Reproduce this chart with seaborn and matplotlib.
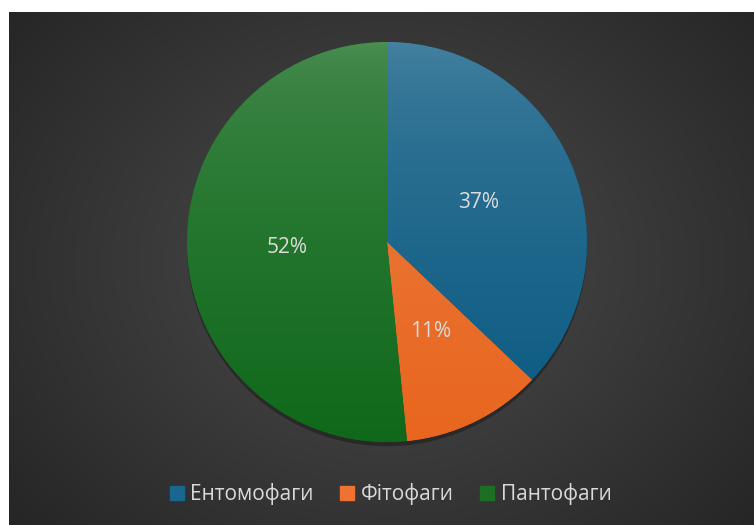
import numpy as np
import seaborn as sns
import matplotlib.pyplot as plt
import matplotlib.patheffects as pe
from matplotlib.colors import to_rgb
from matplotlib.lines import Line2D

# data (shares; labels show rounded values)
groups = ['Ентомофаги', 'Фітофаги', 'Пантофаги']
shares = [37.1, 11.3, 51.6]
base_colors = ['#0b5a82', '#e8661f', '#10691b']
legend_colors = ['#1a6690', '#ee7230', '#1c6f24']

sns.set_style('white')
plt.rcParams['font.family'] = ['Open Sans', 'DejaVu Sans']

fig = plt.figure(figsize=(7.54, 5.25), dpi=100)
fig.patch.set_facecolor('white')

# dark radial background (chart area)
bg = fig.add_axes([9 / 754, 0, 1 - 9 / 754, 513 / 525])
bg.set_axis_off()
yy, xx = np.mgrid[0:513, 0:745]
cx, cy = 378, 250
d = np.sqrt(((xx - cx) / 520) ** 2 + ((yy - cy) / 420) ** 2)
d = np.clip(d, 0, 1)
shade = 0.30 - 0.16 * d
bg.imshow(np.dstack([shade] * 3), aspect='auto', extent=[0, 1, 0, 1], origin='upper')
bg.set_xlim(0, 1)
bg.set_ylim(0, 1)

# pie
ax = fig.add_axes([187 / 754, 83 / 525, 400 / 754, 400 / 525])
wedges, texts, autotexts = ax.pie(
    shares, colors=base_colors, startangle=90, counterclock=False,
    autopct='%1.0f%%', pctdistance=0.5, radius=1,
    textprops={'color': '#dcdcdc', 'fontsize': 15},
    wedgeprops={'linewidth': 0},
)
ax.set_xlim(-1, 1)
ax.set_ylim(-1, 1)
ax.set_aspect('equal')
ax.set_axis_off()

# light-to-dark vertical gradient inside each slice
t = np.linspace(0, 1, 256)[:, None] ** 0.55
for w, c in zip(wedges, base_colors):
    w.set_path_effects([pe.SimplePatchShadow(offset=(0, -3), shadow_rgbFace='black', alpha=0.3), pe.Normal()])
    rgb = np.array(to_rgb(c))
    top = rgb + (1 - rgb) * 0.25
    grad = top[None, None, :] * (1 - t[:, :, None]) + rgb[None, None, :] * t[:, :, None]
    grad = np.repeat(grad, 2, axis=1)
    im = ax.imshow(grad, extent=[-1, 1, -1, 1], origin='upper', aspect='auto', zorder=1.5)
    im.set_clip_path(w)
for txt in autotexts:
    txt.set_zorder(3)

# legend
handles = [Line2D([], [], marker='s', linestyle='', markersize=10.5, color=c) for c in legend_colors]
fig.legend(handles, groups, loc='center', bbox_to_anchor=(389 / 754, 31 / 525), ncol=3,
           frameon=False, fontsize=15, labelcolor='#d9d9d9', handletextpad=0.15,
           columnspacing=1.1, handlelength=1.0)

fig.savefig('out.png', dpi=100)
